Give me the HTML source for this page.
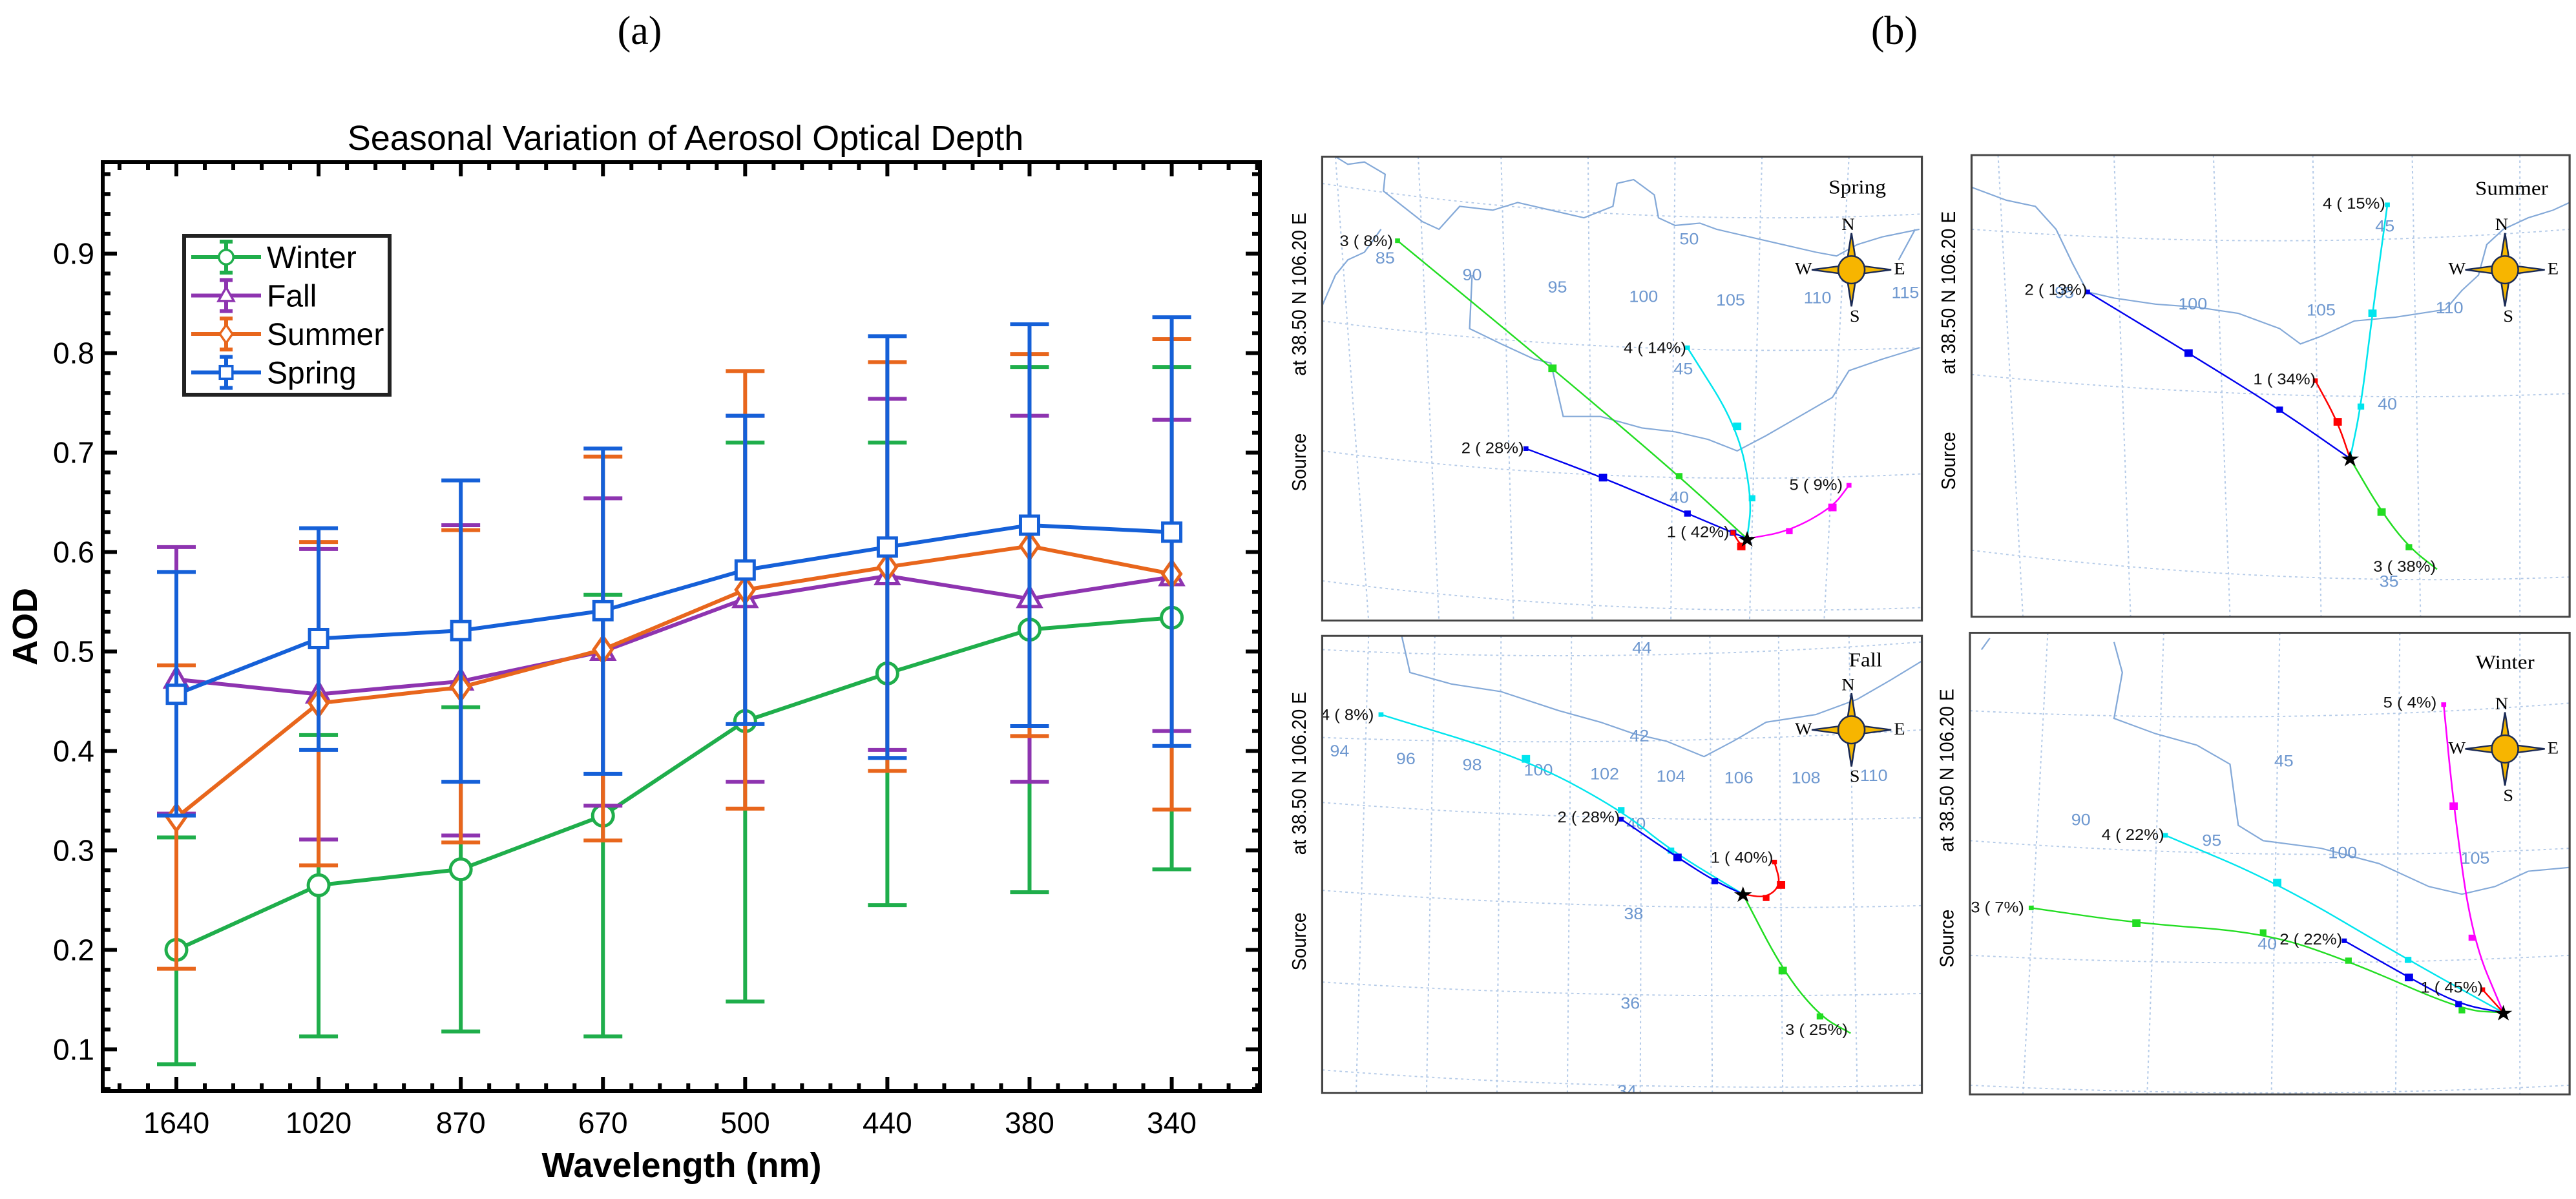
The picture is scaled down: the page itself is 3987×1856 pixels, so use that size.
<!DOCTYPE html>
<html><head><meta charset="utf-8">
<style>
html,body{margin:0;padding:0;background:#fff;}
svg{display:block;}
</style></head>
<body>
<svg id="root" width="3987" height="1856" viewBox="0 0 3987 1856" xmlns="http://www.w3.org/2000/svg">
<rect x="0" y="0" width="3987" height="1856" fill="#fff"/>
<text x="990" y="68" font-family="Liberation Serif, serif" font-size="62" text-anchor="middle">(a)</text>
<text x="2932" y="68" font-family="Liberation Serif, serif" font-size="62" text-anchor="middle">(b)</text>
<g id="chartA"></g>
<g id="maps" transform="translate(1990,0) scale(1.282,1.183)"></g>
</svg>
<script>
const categories = ["1640","1020","870","670","500","440","380","340"];
const seriesNames = ["Winter","Fall","Summer","Spring"];
const winterVals = [0.200,0.265,0.281,0.335,0.430,0.478,0.522,0.534];
const winterLow  = [0.085,0.113,0.118,0.113,0.148,0.245,0.258,0.281];
const winterHigh = [0.313,0.416,0.444,0.557,0.710,0.710,0.786,0.786];
const fallVals = [0.472,0.457,0.470,0.500,0.553,0.576,0.553,0.575];
const fallLow  = [0.337,0.311,0.315,0.345,0.369,0.401,0.369,0.420];
const fallHigh = [0.605,0.603,0.627,0.654,0.737,0.754,0.737,0.733];
const summerVals = [0.333,0.448,0.464,0.502,0.562,0.585,0.606,0.578];
const summerLow  = [0.181,0.285,0.308,0.310,0.342,0.380,0.415,0.341];
const summerHigh = [0.486,0.610,0.622,0.696,0.782,0.791,0.799,0.814];
const springVals = [0.457,0.513,0.521,0.541,0.582,0.605,0.627,0.620];
const springLow  = [0.335,0.401,0.369,0.377,0.427,0.393,0.425,0.405];
const springHigh = [0.580,0.624,0.672,0.704,0.737,0.817,0.829,0.836];
const yTicks = [0.1,0.2,0.3,0.4,0.5,0.6,0.7,0.8,0.9];

const NS="http://www.w3.org/2000/svg";
function mk(tag, attrs, parent){const e=document.createElementNS(NS,tag);for(const k in attrs)e.setAttribute(k,attrs[k]);parent.appendChild(e);return e;}

const L=159,R=1950,T=251,B=1689;
const xMin=-0.518,xMax=7.62,yMin=0.058,yMax=0.992;
function xs(i){return L+(i-xMin)/(xMax-xMin)*(R-L);}
function ys(v){return B-(v-yMin)/(yMax-yMin)*(B-T);}

const A=document.getElementById('chartA');
let t=mk('text',{x:1061,y:232,'font-family':'Liberation Sans, sans-serif','font-size':54,'text-anchor':'middle'},A);
t.textContent='Seasonal Variation of Aerosol Optical Depth';


const tk=mk('g',{stroke:'#000','stroke-width':6},A);


for(let k=-2;k<=38;k++){const i=k/5;if(i<xMin||i>xMax)continue;const x=xs(i);const len=(k%5===0)?22:12;
 mk('line',{x1:x,y1:B,x2:x,y2:B-len},tk);mk('line',{x1:x,y1:T,x2:x,y2:T+len},tk);}
for(let k=2;k<=49;k++){const v=k/50;if(v<yMin||v>yMax)continue;const y=ys(v);const len=(k%5===0)?22:12;
 mk('line',{x1:L,y1:y,x2:L+len,y2:y},tk);mk('line',{x1:R,y1:y,x2:R-len,y2:y},tk);}
yTicks.forEach(v=>{const e=mk('text',{x:146,y:ys(v)+16,'font-family':'Liberation Sans, sans-serif','font-size':46,'text-anchor':'end'},A);e.textContent=v.toFixed(1);
 
 });
categories.forEach((c,i)=>{const e=mk('text',{x:xs(i),y:1754,'font-family':'Liberation Sans, sans-serif','font-size':46,'text-anchor':'middle'},A);e.textContent=c;
 
 });
t=mk('text',{x:1055,y:1822,'font-family':'Liberation Sans, sans-serif','font-size':54,'font-weight':'bold','text-anchor':'middle'},A);t.textContent='Wavelength (nm)';


t=mk('text',{x:0,y:0,'font-family':'Liberation Sans, sans-serif','font-size':54,'font-weight':'bold','text-anchor':'middle',transform:'translate(57,970) rotate(-90)'},A);t.textContent='AOD';



const colors=['#1fae4b','#8e34b0','#e8661c','#1560d8'];
const vals=[winterVals,fallVals,summerVals,springVals];
const lows=[winterLow,fallLow,summerLow,springLow];
const highs=[winterHigh,fallHigh,summerHigh,springHigh];
function marker(s,x,y,g,c){
 const a={fill:'#fff',stroke:c,'stroke-width':5};
 let m;
 if(s===0){a.cx=x;a.cy=y;a.r=16;m=mk('circle',a,g);}
 else if(s===1){a.points=`${x},${y-18} ${x-17},${y+12} ${x+17},${y+12}`;m=mk('polygon',a,g);}
 else if(s===2){a.points=`${x},${y-20} ${x+14},${y} ${x},${y+20} ${x-14},${y}`;m=mk('polygon',a,g);}
 else {a.x=x-14;a.y=y-14;a.width=28;a.height=28;m=mk('rect',a,g);}
 return m;}
vals.forEach((arr,s)=>{
 const g=mk('g',{},A);
 
 
 const c=colors[s];
 arr.forEach((v,i)=>{const x=xs(i);
  const eb=mk('path',{d:`M${x},${ys(lows[s][i])}V${ys(highs[s][i])}M${x-30},${ys(lows[s][i])}H${x+30}M${x-30},${ys(highs[s][i])}H${x+30}`,stroke:c,'stroke-width':6,fill:'none'},g);
  
  });
 const ln=mk('polyline',{points:arr.map((v,i)=>xs(i)+','+ys(v)).join(' '),stroke:c,'stroke-width':6,fill:'none'},g);
 
 
 arr.forEach((v,i)=>{const m=marker(s,xs(i),ys(v),g,c);
  
  });
});
const fr=mk('rect',{x:L,y:T,width:R-L,height:B-T,fill:'none',stroke:'#000','stroke-width':6},A);


const lg=mk('g',{},A);


mk('rect',{x:285,y:365,width:318,height:246,fill:'#fff',stroke:'#222','stroke-width':6},lg);
seriesNames.forEach((n,s)=>{const y=398+s*59.5;const c=colors[s];
 const e=mk('g',{},lg);
 
 
 mk('line',{x1:296,y1:y,x2:404,y2:y,stroke:c,'stroke-width':6},e);
 mk('path',{d:`M350,${y-24}V${y+24}M340,${y-24}H360M340,${y+24}H360`,stroke:c,'stroke-width':6},e);
 marker(s,350,y,e,c).setAttribute('transform',`translate(350,${y}) scale(0.7) translate(-350,${-y})`);
 const tt=mk('text',{x:413,y:y+17,'font-family':'Liberation Sans, sans-serif','font-size':48},e);tt.textContent=n;});

const M=document.getElementById('maps');
const panels=[
 {name:'spring',x:44,y:205,w:724,h:607,title:'Spring',tx:690,ty:253,cx:683,cy:353,star:[557,705],
  coast:['M60,205 L75,215 95,212 120,228 118,250 165,290 185,300 210,270 250,275 280,265 320,275 360,285 395,270 400,240 420,235 445,255 450,285 470,295 500,292 520,300 560,310 600,320 640,330 665,335 690,320 720,310 765,300',
         'M44,400 L60,360 75,340 95,330 115,300',
         'M225,360 L222,430 260,450 300,470 320,475 335,545 380,545 430,560 470,565 510,575 545,590 580,570 620,545 660,520 680,485 720,470 765,455',
         'M740,340 L760,300'],
  lats:['M44,240 Q400,300 768,280','M44,420 Q400,470 768,455','M44,590 Q400,640 768,620','M44,760 Q400,810 768,795'],
  lons:['M60,205 L100,812','M160,205 L185,812','M260,205 L275,812','M365,205 L370,812','M470,205 L465,812','M575,205 L560,812','M680,205 L650,812'],
  lbl:[['85',120,345],['90',225,367],['95',328,383],['100',432,395],['105',537,400],['110',642,397],['115',748,390],['50',487,320],['45',480,490],['40',475,658]],
  trajs:[['#22dd22',[[135,315],[322,482],[475,623],[557,705]],'3 ( 8%)',65,316],
         ['#0000ee',[[290,587],[383,625],[485,672],[540,697],[557,705]],'2 ( 28%)',212,587],
         ['#00e5ee',[[485,455],[545,558],[563,652],[557,705]],'4 ( 14%)',408,456],
         ['#ff00ff',[[680,635],[660,664],[608,695],[557,705]],'5 (  9%)',608,635],
         ['#ff0000',[[540,697],[550,715],[557,705]],'1 ( 42%)',460,697]]},
 {name:'summer',x:828,y:203,w:722,h:604,title:'Summer',tx:1480,ty:255,cx:1472,cy:353,star:[1285,600],
  coast:['M828,245 L870,262 905,270 930,300 950,345 968,382 1000,390 1050,398 1100,402 1150,410 1200,430 1225,450 1250,440 1290,420 1340,415 1400,405 1420,380 1440,360 1450,320 1470,300 1500,285 1530,275 1550,265'],
  lats:['M828,300 Q1200,330 1550,300','M828,490 Q1200,530 1550,515','M828,720 Q1200,770 1550,755'],
  lons:['M860,203 L890,807','M1000,203 L1020,807','M1120,203 L1140,807','M1240,203 L1250,807','M1360,203 L1370,807','M1490,203 L1490,807'],
  lbl:[['95',940,390],['100',1095,405],['105',1250,413],['110',1405,410],['45',1327,303],['40',1330,536],['35',1332,768]],
  trajs:[['#0000ee',[[968,382],[1090,462],[1200,536],[1285,600]],'2 ( 13%)',892,380],
         ['#00e5ee',[[1330,268],[1312,410],[1298,532],[1285,600]],'4 ( 15%)',1252,267],
         ['#ff0000',[[1243,498],[1270,552],[1285,600]],'1 ( 34%)',1168,497],
         ['#22dd22',[[1285,600],[1323,670],[1356,716],[1390,745]],'3 ( 38%)',1313,742]]},
 {name:'fall',x:44,y:832,w:724,h:598,title:'Fall',tx:700,ty:872,cx:683,cy:955,star:[552,1170],
  coast:['M140,832 L150,880 200,895 260,905 330,930 380,945 420,960 460,970 505,990 540,970 580,945 640,935 690,915 730,890 768,865'],
  lats:['M44,850 Q400,870 768,840','M44,965 Q400,980 768,955','M44,1050 Q400,1080 768,1070','M44,1165 Q400,1195 768,1185','M44,1285 Q400,1310 768,1300','M44,1400 Q400,1430 768,1420'],
  lons:['M100,832 L85,1430','M180,832 L170,1430','M260,832 L255,1430','M345,832 L340,1430','M430,832 L428,1430','M512,832 L515,1430','M595,832 L600,1430','M680,832 L690,1430'],
  lbl:[['94',65,990],['96',145,1000],['98',225,1008],['100',305,1015],['102',385,1020],['104',465,1023],['106',547,1025],['108',628,1025],['110',710,1022],['44',430,855],['42',427,970],['40',423,1085],['38',420,1203],['36',416,1320],['34',412,1435]],
  trajs:[['#00e5ee',[[115,935],[290,993],[405,1060],[465,1113],[552,1170]],'4 ( 8%)',42,936],
         ['#0000ee',[[405,1072],[473,1122],[518,1153],[552,1170]],'2 ( 28%)',328,1070],
         ['#ff0000',[[590,1128],[598,1158],[580,1175],[552,1170]],'1 ( 40%)',513,1123],
         ['#22dd22',[[552,1170],[600,1270],[645,1330],[682,1352]],'3 ( 25%)',603,1348]]},
 {name:'winter',x:826,y:828,w:724,h:604,title:'Winter',tx:1472,ty:875,cx:1472,cy:980,star:[1470,1325],
  coast:['M1000,840 L1010,880 1000,940 1050,960 1100,975 1140,1000 1150,1080 1180,1100 1250,1110 1320,1130 1380,1160 1420,1170 1460,1160 1500,1140 1550,1135',
         'M840,850 L850,835'],
  lats:['M826,930 Q1200,950 1550,920','M826,1100 Q1200,1130 1550,1110','M826,1250 Q1200,1270 1550,1250','M826,1420 Q1200,1440 1550,1420'],
  lons:['M920,828 L890,1432','M1060,828 L1040,1432','M1200,828 L1190,1432','M1345,828 L1340,1432','M1490,828 L1490,1432'],
  lbl:[['90',960,1080],['95',1118,1107],['100',1276,1123],['105',1436,1130],['45',1205,1003],['40',1185,1242]],
  trajs:[['#ff00ff',[[1398,922],[1410,1055],[1432,1227],[1470,1325]],'5 (  4%)',1325,920],
         ['#00e5ee',[[1062,1093],[1197,1155],[1355,1256],[1470,1325]],'4 ( 22%)',985,1093],
         ['#22dd22',[[900,1188],[1027,1208],[1180,1220],[1283,1257],[1420,1322],[1470,1325]],'3 (  7%)',827,1188],
         ['#0000ee',[[1278,1231],[1356,1279],[1416,1314],[1470,1325]],'2 ( 22%)',1200,1230],
         ['#ff0000',[[1445,1295],[1470,1325]],'1 ( 45%)',1370,1293]]}
];
function smooth(p){let d='M'+p[0][0]+','+p[0][1];
 for(let i=1;i<p.length;i++){const a=p[i-1],b=p[i];const mx=(a[0]+b[0])/2,my=(a[1]+b[1])/2;
  if(i===1)d+=' L'+mx+','+my;else d+=' Q'+a[0]+','+a[1]+' '+mx+','+my;}
 const l=p[p.length-1];d+=' L'+l[0]+','+l[1];return d;}
panels.forEach(P=>{
 const g=mk('g',{},M);
 
 
 const cid='clip-'+P.name;
 const cp=mk('clipPath',{id:cid},g);mk('rect',{x:P.x,y:P.y,width:P.w,height:P.h},cp);
 const inner=mk('g',{'clip-path':'url(#'+cid+')'},g);
 mk('rect',{x:P.x,y:P.y,width:P.w,height:P.h,fill:'#fff'},inner);
 P.lats.concat(P.lons).forEach(d=>mk('path',{d:d,fill:'none',stroke:'#b5cbe8','stroke-width':1.6,'stroke-dasharray':'3,4'},inner));
 P.coast.forEach(d=>{const c=mk('path',{d:d,fill:'none',stroke:'#84a9d8','stroke-width':1.8},inner);
  
  });
 P.lbl.forEach(l=>{const e=mk('text',{x:l[1],y:l[2],'font-family':'Liberation Sans, sans-serif','font-size':21,fill:'#6d97cf','text-anchor':'middle'},inner);e.textContent=l[0];});
 P.trajs.forEach(tr=>{const tg=mk('g',{},inner);
  
  
  mk('path',{d:smooth(tr[1]),fill:'none',stroke:tr[0],'stroke-width':2},tg);
  tr[1].slice(0,-1).forEach((p,i)=>{const s=i===0?3:(i===1?5:4);mk('rect',{x:p[0]-s,y:p[1]-s,width:2*s,height:2*s,fill:tr[0]},tg);});
  const lt=mk('text',{x:tr[3],y:tr[4]+6,'font-family':'Liberation Sans, sans-serif','font-size':20,fill:'#111'},tg);lt.textContent=tr[2];});
 const st=mk('text',{x:P.star[0],y:P.star[1]+10,'font-size':28,'text-anchor':'middle','font-family':'DejaVu Sans, sans-serif'},inner);st.textContent='★';
 
 
 const tl=mk('text',{x:P.tx,y:P.ty,'font-family':'Liberation Serif, serif','font-size':26,'text-anchor':'middle'},inner);tl.textContent=P.title;
 
 
 const cg=mk('g',{transform:`translate(${P.cx},${P.cy})`},inner);
 
 
 mk('polygon',{points:'0,-48 6,-6 48,0 6,6 0,48 -6,6 -48,0 -6,-6',fill:'#f5b800',stroke:'#1a2a55','stroke-width':2},cg);
 mk('ellipse',{cx:0,cy:0,rx:16,ry:18,fill:'#f7b500',stroke:'#1a2a55','stroke-width':2},cg);
 [['N',-4,-52],['S',4,68],['E',58,6],['W',-58,6]].forEach(c=>{const e=mk('text',{x:c[1],y:c[2],'font-family':'Liberation Serif, serif','font-size':22,'text-anchor':'middle'},cg);e.textContent=c[0];});
 const bd=mk('rect',{x:P.x,y:P.y,width:P.w,height:P.h,fill:'none',stroke:'#444','stroke-width':2.5},g);
 
 
 const sx=P.x-20;
 const s1=mk('text',{x:0,y:0,'font-family':'Liberation Sans, sans-serif','font-size':24,'text-anchor':'middle',transform:`translate(${sx},${P.y+180}) rotate(-90)`},g);s1.textContent='at   38.50 N  106.20 E';
 
 
 const s2=mk('text',{x:0,y:0,'font-family':'Liberation Sans, sans-serif','font-size':24,'text-anchor':'middle',transform:`translate(${sx},${P.y+400}) rotate(-90)`},g);s2.textContent='Source';
 
 
});
</script>
</body></html>
